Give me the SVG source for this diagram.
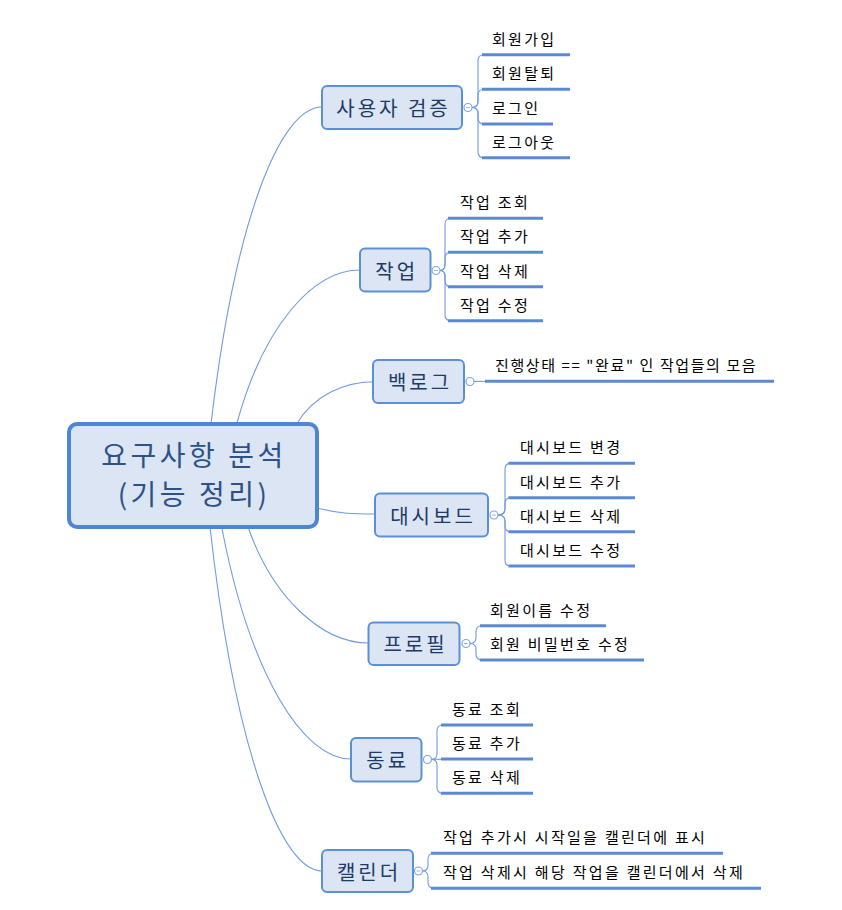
<svg xmlns="http://www.w3.org/2000/svg" width="842" height="910" viewBox="0 0 842 910">
<style>
.bg{fill:#ffffff}
.root{fill:#dbe5f3;stroke:#4f86d3;stroke-width:4}
.box{fill:#dbe5f3;stroke:#5b8fd6;stroke-width:2}
.rt{font-family:"Noto Sans CJK KR","Liberation Sans",sans-serif;font-size:28px;fill:#2c5288;text-anchor:middle;letter-spacing:3.5px}
.nt{font-family:"Noto Sans CJK KR","Liberation Sans",sans-serif;font-size:20px;fill:#1e3a66;text-anchor:middle;letter-spacing:3px;dominant-baseline:central}
.ct{font-family:"Noto Sans CJK KR","Liberation Sans",sans-serif;font-size:15px;fill:#000000;letter-spacing:2.3px;dominant-baseline:central}
.con{fill:none;stroke:#6f9be0;stroke-width:1.1}
.ul{fill:none;stroke:#5a8ad4;stroke-width:3}
.knob{fill:#ffffff;stroke:#7fa6e0;stroke-width:1.2}
.minus{stroke:#9bb9e6;stroke-width:1}
</style>
<rect class="bg" x="0" y="0" width="842" height="910"/>
<g id="connectors">
<path class="con" d="M211,424 C235,220 280,107 322,107"/>
<path class="con" d="M236.7,424 C263.8,324.7 313.5,270 360,270"/>
<path class="con" d="M296.7,424 C313,396 344.6,381.7 373,381.7"/>
<path class="con" d="M317,508 C340,514 355,514 375,514"/>
<path class="con" d="M248,527 C274,601 324,643 368.5,643"/>
<path class="con" d="M221.7,527 C250,675 303,759 351,759"/>
<path class="con" d="M210,527 C234.6,747 280.5,871 322,871"/>
</g>
<g id="root">
<rect class="root" x="69" y="424" width="248" height="103" rx="8"/>
<text class="rt" x="194" y="466">요구사항 분석</text>
<text class="rt" x="194" y="505">(기능 정리)</text>
</g>
<g id="node-auth">
<rect class="box" x="322" y="86" width="140" height="43" rx="5"/>
<text class="nt" x="393.5" y="107.5">사용자 검증</text>
<path class="con" d="M472,107.5 Q478,107.5 478,101.5 L478,60.7 Q478,54.7 484,54.7"/>
<path class="con" d="M472,107.5 Q478,107.5 478,101.5 L478,95.3 Q478,89.3 484,89.3"/>
<path class="con" d="M472,107.5 Q478,107.5 478,113.5 L478,118 Q478,124 484,124"/>
<path class="con" d="M472,107.5 Q478,107.5 478,113.5 L478,151.7 Q478,157.7 484,157.7"/>
<line class="ul" x1="482" y1="54.7" x2="570" y2="54.7"/>
<line class="ul" x1="482" y1="89.3" x2="570" y2="89.3"/>
<line class="ul" x1="482" y1="124" x2="553" y2="124"/>
<line class="ul" x1="482" y1="157.7" x2="570" y2="157.7"/>
<circle class="knob" cx="468" cy="107.5" r="4"/>
<line class="minus" x1="466" y1="107.5" x2="470" y2="107.5"/>
<text class="ct" x="492" y="38">회원가입</text>
<text class="ct" x="492" y="72.6">회원탈퇴</text>
<text class="ct" x="492" y="107.3">로그인</text>
<text class="ct" x="492" y="141">로그아웃</text>
</g>
<g id="node-task">
<rect class="box" x="360" y="248.5" width="70.5" height="43" rx="5"/>
<text class="nt" x="396.7" y="270">작업</text>
<path class="con" d="M440,270.5 Q445,270.5 445,264.5 L445,224.3 Q445,218.3 451,218.3"/>
<path class="con" d="M440,270.5 Q445,270.5 445,264.5 L445,258.3 Q445,252.3 451,252.3"/>
<path class="con" d="M440,270.5 Q445,270.5 445,276.5 L445,280.7 Q445,286.7 451,286.7"/>
<path class="con" d="M440,270.5 Q445,270.5 445,276.5 L445,314.7 Q445,320.7 451,320.7"/>
<line class="ul" x1="448" y1="218.3" x2="543" y2="218.3"/>
<line class="ul" x1="448" y1="252.3" x2="543" y2="252.3"/>
<line class="ul" x1="448" y1="286.7" x2="543" y2="286.7"/>
<line class="ul" x1="448" y1="320.7" x2="543" y2="320.7"/>
<circle class="knob" cx="436" cy="270.5" r="4"/>
<line class="minus" x1="434" y1="270.5" x2="438" y2="270.5"/>
<text class="ct" x="460" y="201.6">작업 조회</text>
<text class="ct" x="460" y="235.6">작업 추가</text>
<text class="ct" x="460" y="270">작업 삭제</text>
<text class="ct" x="460" y="304">작업 수정</text>
</g>
<g id="node-backlog">
<rect class="box" x="373" y="360" width="91" height="43" rx="5"/>
<text class="nt" x="420" y="381.5">백로그</text>
<line class="con" x1="474" y1="381.4" x2="486" y2="381.4"/>
<line class="ul" x1="485" y1="381.3" x2="774" y2="381.3"/>
<circle class="knob" cx="470" cy="381.5" r="4"/>
<text class="ct" x="495" y="364.1" style="letter-spacing:1.6px">진행상태 == "완료" 인 작업들의 모음</text>
</g>
<g id="node-dashboard">
<rect class="box" x="375" y="493.5" width="113" height="43" rx="5"/>
<text class="nt" x="433" y="515">대시보드</text>
<path class="con" d="M498,515 Q505,515 505,509 L505,469.3 Q505,463.3 511,463.3"/>
<path class="con" d="M498,515 Q505,515 505,509 L505,503.7 Q505,497.7 511,497.7"/>
<path class="con" d="M498,515 Q505,515 505,521 L505,525.7 Q505,531.7 511,531.7"/>
<path class="con" d="M498,515 Q505,515 505,521 L505,560 Q505,566 511,566"/>
<line class="ul" x1="508.5" y1="463.3" x2="635" y2="463.3"/>
<line class="ul" x1="508.5" y1="497.7" x2="635" y2="497.7"/>
<line class="ul" x1="508.5" y1="531.7" x2="635" y2="531.7"/>
<line class="ul" x1="508.5" y1="566" x2="635" y2="566"/>
<circle class="knob" cx="494" cy="515" r="4"/>
<line class="minus" x1="492" y1="515" x2="496" y2="515"/>
<text class="ct" x="520" y="446.6">대시보드 변경</text>
<text class="ct" x="520" y="481">대시보드 추가</text>
<text class="ct" x="520" y="515">대시보드 삭제</text>
<text class="ct" x="520" y="549.3">대시보드 수정</text>
</g>
<g id="node-profile">
<rect class="box" x="368.5" y="622.5" width="91" height="42.5" rx="5"/>
<text class="nt" x="415.5" y="643.5">프로필</text>
<path class="con" d="M470,643.5 Q476,643.5 476,637.5 L476,631.7 Q476,625.7 482,625.7"/>
<path class="con" d="M470,643.5 Q476,643.5 476,649.5 L476,654 Q476,660 482,660"/>
<line class="ul" x1="480" y1="625.7" x2="606" y2="625.7"/>
<line class="ul" x1="480" y1="660" x2="644" y2="660"/>
<circle class="knob" cx="466" cy="643.5" r="4"/>
<line class="minus" x1="464" y1="643.5" x2="468" y2="643.5"/>
<text class="ct" x="490" y="609">회원이름 수정</text>
<text class="ct" x="490" y="643.3">회원 비밀번호 수정</text>
</g>
<g id="node-colleague">
<rect class="box" x="351" y="738" width="70.5" height="43.5" rx="5"/>
<text class="nt" x="387.7" y="759.5">동료</text>
<path class="con" d="M431.5,759.5 Q437,759.5 437,753.5 L437,731 Q437,725 443,725"/>
<line class="con" x1="431.5" y1="759.3" x2="443" y2="759.3"/>
<path class="con" d="M431.5,759.5 Q437,759.5 437,765.5 L437,787.3 Q437,793.3 443,793.3"/>
<line class="ul" x1="441" y1="725" x2="533" y2="725"/>
<line class="ul" x1="441" y1="759" x2="533" y2="759"/>
<line class="ul" x1="441" y1="793.3" x2="533" y2="793.3"/>
<circle class="knob" cx="427.5" cy="759.5" r="4"/>
<text class="ct" x="452" y="708.3">동료 조회</text>
<text class="ct" x="452" y="742.3">동료 추가</text>
<text class="ct" x="452" y="776.6">동료 삭제</text>
</g>
<g id="node-calendar">
<rect class="box" x="322" y="850" width="91" height="42" rx="5"/>
<text class="nt" x="369" y="871">캘린더</text>
<path class="con" d="M422.5,871 Q428,871 428,865 L428,859.3 Q428,853.3 434,853.3"/>
<path class="con" d="M422.5,871 Q428,871 428,877 L428,882.3 Q428,888.3 434,888.3"/>
<line class="ul" x1="431" y1="853.3" x2="723" y2="853.3"/>
<line class="ul" x1="431" y1="888.3" x2="761" y2="888.3"/>
<circle class="knob" cx="418.5" cy="871" r="4"/>
<line class="minus" x1="416.5" y1="871" x2="420.5" y2="871"/>
<text class="ct" x="443" y="836.6">작업 추가시 시작일을 캘린더에 표시</text>
<text class="ct" x="443" y="871.6">작업 삭제시 해당 작업을 캘린더에서 삭제</text>
</g>
</svg>
